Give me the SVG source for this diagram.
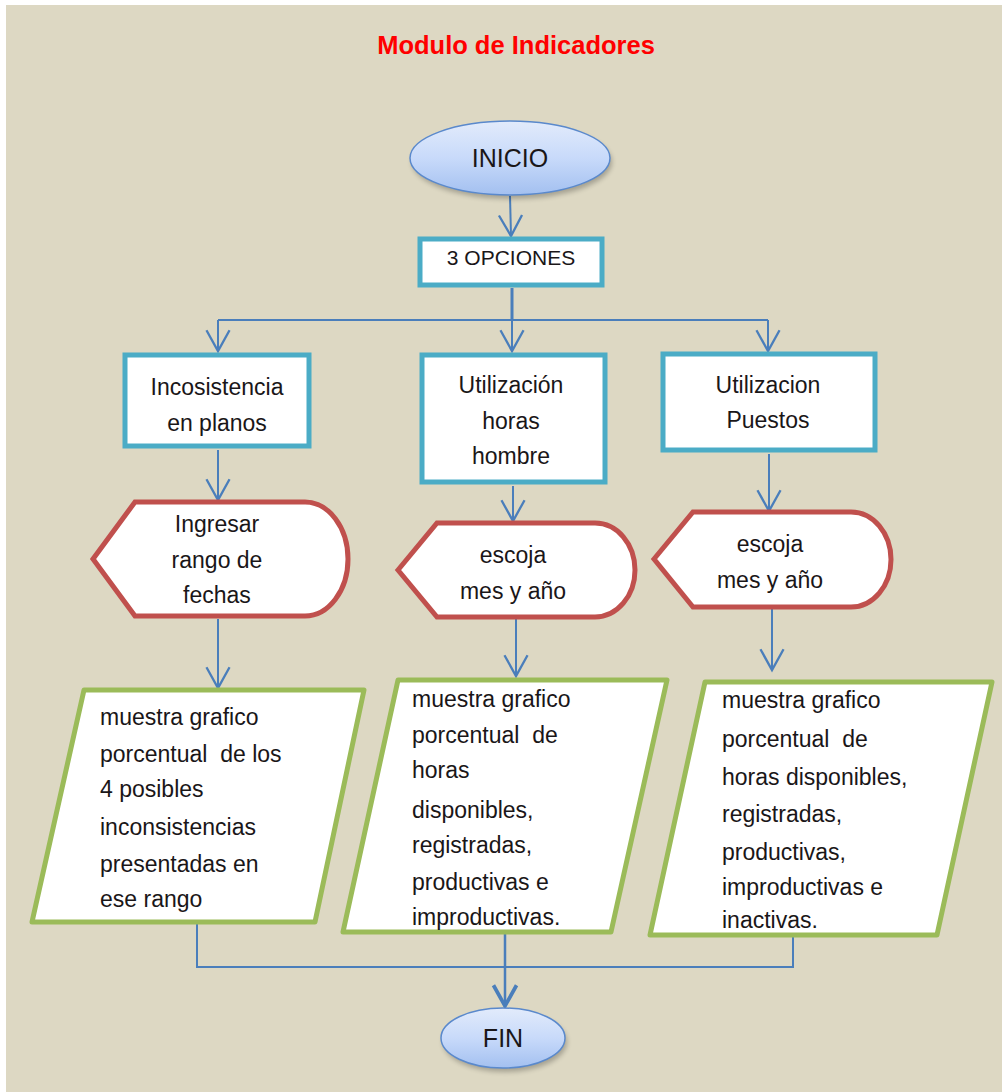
<svg xmlns="http://www.w3.org/2000/svg" width="1002" height="1092" viewBox="0 0 1002 1092">
  <defs>
    <linearGradient id="termFill" x1="0" y1="0" x2="0" y2="1">
      <stop offset="0" stop-color="#e2ebfb"/>
      <stop offset="0.5" stop-color="#c8dafa"/>
      <stop offset="1" stop-color="#a3c0f0"/>
    </linearGradient>
    <filter id="soft" x="-20%" y="-20%" width="140%" height="160%">
      <feGaussianBlur stdDeviation="2.5"/>
    </filter>
    <marker id="arrow" markerUnits="userSpaceOnUse" markerWidth="30" markerHeight="30" viewBox="-22 -13 26 26" refX="0" refY="0" orient="auto">
      <path d="M -18 -10 L 0 0 L -18 10" fill="none" stroke="#4a7ebb" stroke-width="2"/>
    </marker>
    <marker id="arrowBold" markerUnits="userSpaceOnUse" markerWidth="30" markerHeight="30" viewBox="-22 -13 26 26" refX="0" refY="0" orient="auto">
      <path d="M -18 -10 L 0 0 L -18 10" fill="none" stroke="#4a7ebb" stroke-width="3.2"/>
    </marker>
    <style>
      .txt { font-family: "Liberation Sans", Arial, sans-serif; fill: #1a1618; }
      .body { font-size: 23px; }
      .mid { text-anchor: middle; }
      .process { fill: #ffffff; stroke: #4bacc6; stroke-width: 5; }
      .display { fill: #ffffff; stroke: #c0504d; stroke-width: 5; stroke-linejoin: miter; }
      .io { fill: #ffffff; stroke: #9bbb59; stroke-width: 5; stroke-linejoin: round; }
      .term { fill: url(#termFill); stroke: #5a89cc; stroke-width: 1.5; }
      .link { fill: none; stroke: #4a7ebb; stroke-width: 2; }
    </style>
  </defs>

  <!-- page -->
  <rect x="0" y="0" width="1002" height="1092" fill="#ffffff"/>
  <rect x="6" y="5" width="996" height="1087" fill="#ddd8c3"/>

  <text class="txt" x="516" y="54" text-anchor="middle" font-size="25.5" font-weight="bold" style="fill:#ff0000">Modulo de Indicadores</text>

  <!-- connectors -->
  <g id="connectors">
    <line class="link" x1="510" y1="196" x2="511" y2="236" marker-end="url(#arrow)"/>
    <line class="link" x1="512" y1="288" x2="512" y2="320" style="stroke-width:3"/>
    <line class="link" x1="218" y1="320" x2="768" y2="320"/>
    <line class="link" x1="218" y1="320" x2="218" y2="351" marker-end="url(#arrow)"/>
    <line class="link" x1="512" y1="320" x2="512" y2="351" marker-end="url(#arrow)"/>
    <line class="link" x1="768" y1="320" x2="768" y2="351" marker-end="url(#arrow)"/>
    <line class="link" x1="218" y1="450" x2="218" y2="500" marker-end="url(#arrow)"/>
    <line class="link" x1="513" y1="486" x2="513" y2="521" marker-end="url(#arrow)"/>
    <line class="link" x1="769" y1="454" x2="769" y2="511" marker-end="url(#arrow)"/>
    <line class="link" x1="218" y1="619" x2="218" y2="688" marker-end="url(#arrow)"/>
    <line class="link" x1="516" y1="619" x2="516" y2="676" marker-end="url(#arrow)"/>
    <line class="link" x1="772" y1="609" x2="772" y2="670" marker-end="url(#arrow)"/>
    <polyline class="link" points="197,924 197,967 793,967 793,930"/>
    <line class="link" x1="505" y1="934" x2="505" y2="1006" marker-end="url(#arrowBold)" style="stroke-width:2.5"/>
  </g>

  <!-- start -->
  <g id="inicio">
    <ellipse cx="512" cy="162" rx="100" ry="37" fill="#000" opacity="0.25" filter="url(#soft)"/>
    <ellipse class="term" cx="510" cy="158" rx="100" ry="37"/>
    <text class="txt mid" x="510" y="167" font-size="25">INICIO</text>
  </g>

  <g id="opciones">
    <rect class="process" x="420" y="239" width="182" height="46"/>
    <text class="txt mid" x="511" y="265" font-size="21">3 OPCIONES</text>
  </g>

  <!-- option boxes -->
  <g id="opt-inconsistencia">
    <rect class="process" x="125" y="355" width="184" height="91"/>
    <text class="txt body mid" x="217" y="395">Incosistencia</text>
    <text class="txt body mid" x="217" y="431">en planos</text>
  </g>
  <g id="opt-horas-hombre">
    <rect class="process" x="422" y="355" width="183" height="127"/>
    <text class="txt body mid" x="511" y="393">Utilización</text>
    <text class="txt body mid" x="511" y="429">horas</text>
    <text class="txt body mid" x="511" y="464">hombre</text>
  </g>
  <g id="opt-puestos">
    <rect class="process" x="663" y="354" width="212" height="96"/>
    <text class="txt body mid" x="768" y="393">Utilizacion</text>
    <text class="txt body mid" x="768" y="428">Puestos</text>
  </g>

  <!-- display steps -->
  <g id="disp-fechas">
    <path class="display" d="M 93 559 L 135 502 L 305 502 A 43 57 0 0 1 305 616 L 135 616 Z"/>
    <text class="txt body mid" x="217" y="532">Ingresar</text>
    <text class="txt body mid" x="217" y="568">rango de</text>
    <text class="txt body mid" x="217" y="603">fechas</text>
  </g>
  <g id="disp-mes-1">
    <path class="display" d="M 398 570 L 437 523 L 595 523 A 40 47 0 0 1 595 617 L 437 617 Z"/>
    <text class="txt body mid" x="513" y="563">escoja</text>
    <text class="txt body mid" x="513" y="599">mes y año</text>
  </g>
  <g id="disp-mes-2">
    <path class="display" d="M 654 559 L 693 512 L 851 512 A 40 47.5 0 0 1 851 607 L 693 607 Z"/>
    <text class="txt body mid" x="770" y="552">escoja</text>
    <text class="txt body mid" x="770" y="588">mes y año</text>
  </g>

  <!-- outputs -->
  <g id="out-inconsistencias">
    <path class="io" d="M 84 690 L 364 690 L 315 922 L 32 922 Z"/>
    <text class="txt body" x="100" y="725">muestra grafico</text>
    <text class="txt body" x="100" y="762" xml:space="preserve">porcentual  de los</text>
    <text class="txt body" x="100" y="797">4 posibles</text>
    <text class="txt body" x="100" y="835">inconsistencias</text>
    <text class="txt body" x="100" y="872">presentadas en</text>
    <text class="txt body" x="100" y="907">ese rango</text>
  </g>
  <g id="out-horas-hombre">
    <path class="io" d="M 398 680 L 667 680 L 611 932 L 343 932 Z"/>
    <text class="txt body" x="412" y="707">muestra grafico</text>
    <text class="txt body" x="412" y="743" xml:space="preserve">porcentual  de</text>
    <text class="txt body" x="412" y="778">horas</text>
    <text class="txt body" x="412" y="818">disponibles,</text>
    <text class="txt body" x="412" y="853">registradas,</text>
    <text class="txt body" x="412" y="890">productivas e</text>
    <text class="txt body" x="412" y="925">improductivas.</text>
  </g>
  <g id="out-puestos">
    <path class="io" d="M 705 682 L 992 682 L 937 935 L 650 935 Z"/>
    <text class="txt body" x="722" y="708">muestra grafico</text>
    <text class="txt body" x="722" y="747" xml:space="preserve">porcentual  de</text>
    <text class="txt body" x="722" y="785">horas disponibles,</text>
    <text class="txt body" x="722" y="822">registradas,</text>
    <text class="txt body" x="722" y="860">productivas,</text>
    <text class="txt body" x="722" y="895">improductivas e</text>
    <text class="txt body" x="722" y="928">inactivas.</text>
  </g>

  <!-- end -->
  <g id="fin">
    <ellipse cx="505" cy="1042" rx="62" ry="30" fill="#000" opacity="0.25" filter="url(#soft)"/>
    <ellipse class="term" cx="503" cy="1038" rx="62" ry="30"/>
    <text class="txt mid" x="503" y="1047" font-size="25">FIN</text>
  </g>
</svg>
